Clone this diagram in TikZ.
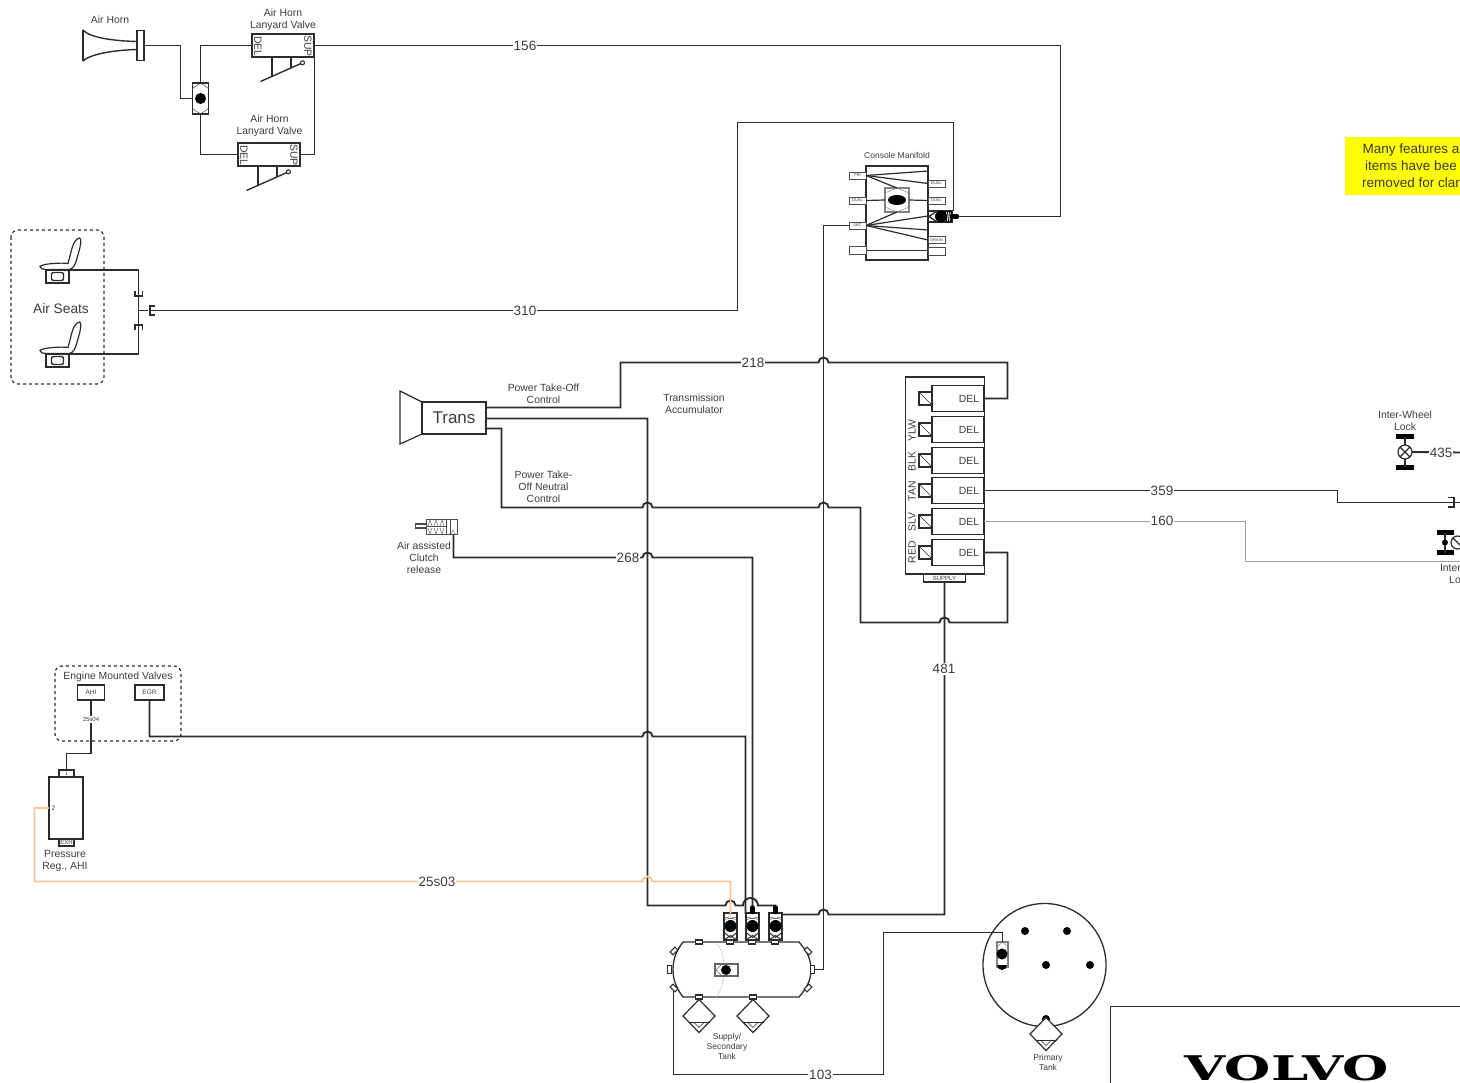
\documentclass[tikz,border=0pt]{standalone}
\usepackage{fontspec}
\usepackage{graphicx}
\setmainfont{Liberation Sans}
\newfontfamily\volvofont{DejaVu Serif}
\definecolor{wirecol}{HTML}{2C2C2C}
\definecolor{labelcol}{HTML}{3C3C3C}
\definecolor{feedcol}{HTML}{A0A0A0}
\definecolor{orangecol}{HTML}{F9C795}
\definecolor{notecol}{HTML}{FFFF00}
\newcommand{\hop}[2]{-- (#1-5,#2) arc[start angle=180,end angle=0,radius=5pt]}
\tikzset{
  wire/.style={wirecol,line width=1.9pt},
  greywire/.style={feedcol,line width=1.9pt},
  orangewire/.style={orangecol,line width=1.9pt},
  pbox/.style={draw=wirecol,line width=1.1pt,fill=white,rectangle,inner sep=0pt,outer sep=0pt},
  dashbox/.style={draw=wirecol,line width=1.2pt,dashed,rounded corners=7pt},
  lbl/.style={font=\fontsize{10.4}{12}\selectfont,text=labelcol,align=center,inner sep=0pt,yshift=-0.7pt},
  tiny/.style={font=\fontsize{6}{7}\selectfont,text=labelcol,align=center,inner sep=0pt},
  wirelabel/.style={font=\fontsize{13.5}{15}\selectfont,text=labelcol,fill=white,inner sep=1pt,yshift=-0.5pt},
  shuttle/.pic={
    \node[pbox,minimum width=16pt,minimum height=31pt] (-body) at (0,0) {};
    \draw[wirecol] (-8,-10) -- (0,-15.5) -- (8,-10);
    \draw[wirecol] (-8,10) -- (0,15.5) -- (8,10);
    \fill[black] (0,0) circle (5.5pt);
  },
  lever/.pic={
    \draw[wirecol,line width=1.4pt] (-20.5,18) -- (20,0);
    \draw[wirecol,line width=1.1pt,fill=white] (21.5,-0.7) circle (2pt);
    \draw[wirecol,line width=1.4pt] (-9,-6) -- (-9,13);
    \draw[wirecol,line width=1.4pt] (10,-6) -- (10,4.5);
  },
  airseat/.pic={
    \node[pbox,minimum width=23pt,minimum height=13pt] (-base) at (0,0) {};
    \draw[wirecol,line width=1.4pt,rounded corners=2pt] (-6,-4) rectangle (6,4);
    \draw[wirecol,line width=1.2pt,fill=white] (-17.5,-10) .. controls (-15,-13) and (5,-14) .. (10.5,-13)
      .. controls (14,-25) and (15,-37) .. (22,-38.5)
      .. controls (24,-38) and (24,-33) .. (20,-20)
      .. controls (18,-12) and (16,-8) .. (12,-7) -- (-12,-7) .. controls (-15,-7) and (-17,-8) .. (-17.5,-10) -- cycle;
  },
  tankvalve/.pic={
    \node[pbox,minimum width=13pt,minimum height=27pt] (-body) at (0,0) {};
    \draw[wirecol] (-6.5,-9.5) -- (6.5,-7);
    \draw[wirecol] (-6.5,-7) -- (6.5,-9.5);
    \draw[wirecol,line width=1pt] (-6.5,6) -- (0,11) -- (6.5,6);
    \draw[wirecol,line width=1pt] (-6.5,13.5) -- (0,9) -- (6.5,13.5);
    \fill[black] (0,-0.5) circle (6pt);
  },
  drainvalve/.pic={
    \draw[wirecol,line width=1.2pt,fill=white] (0,-16.5) -- (16,0) -- (0,16.5) -- (-16,0) -- cycle;
    \draw[wirecol] (-10.5,6) -- (10.5,6);
    \draw[wirecol] (-5.5,6) -- (0,11.5) -- (5.5,6);
  },
  axle/.pic={
    \fill[black] (-9,-18) rectangle (9,-13);
    \fill[black] (-9,13) rectangle (9,18);
    \draw[wire] (0,-15) -- (0,15);
  },
  shortaxle/.pic={
    \fill[black] (-8.5,-12.5) rectangle (8.5,-7.5);
    \fill[black] (-8.5,7.5) rectangle (8.5,12.5);
    \draw[wire] (0,-10) -- (0,10);
  },
  sport/.style={pbox,minimum width=7pt,minimum height=4pt},
  mport/.style={pbox,draw=black!70,line width=0.9pt,minimum width=17pt,minimum height=7pt,font=\fontsize{4}{5}\selectfont,text=labelcol},
}
\begin{document}
\begin{tikzpicture}[x=1pt,y=-1pt]
\useasboundingbox (0,0) rectangle (1460,1083);
\clip (0,0) rectangle (1460,1083);
%
% air horn and lanyard valves
\node[lbl] (hornlabel) at (110,19) {Air Horn};
\draw[wirecol,line width=1.4pt] (83,30) .. controls (90,38) and (115,41) .. (137,41.5);
\draw[wirecol,line width=1.4pt] (83,61) .. controls (90,54) and (115,50) .. (137,49.5);
\draw[wirecol,line width=1.4pt] (83,30) -- (83,61);
\node[pbox,minimum width=7pt,minimum height=30pt] (hornflange) at (140.5,45.5) {};
\pic (hornshuttle) at (200.5,98.5) {shuttle};
\node[pbox,minimum width=62pt,minimum height=23pt] (lanyarda) at (283,45.5) {};
\node[pbox,minimum width=62pt,minimum height=23pt] (lanyardb) at (269,154.5) {};
\node[lbl,rotate=-90] (delA) at (258,45.5) {DEL};
\node[lbl,rotate=-90] (supA) at (308,45.5) {SUP};
\node[lbl,rotate=-90] (delB) at (244,154.5) {DEL};
\node[lbl,rotate=-90] (supB) at (294,154.5) {SUP};
\node[lbl] (lanyardalabel) at (283,19.5) {Air Horn\\Lanyard Valve};
\node[lbl] (lanyardblabel) at (269.5,125.5) {Air Horn\\Lanyard Valve};
\pic at (281,63.5) {lever};
\pic at (267,172.5) {lever};
\draw[wire] (hornflange.east) -- (180.5,45.5) -- (180.5,98.5) -- (hornshuttle-body.west);
\draw[wire] (hornshuttle-body.north) |- (lanyarda.west);
\draw[wire] (hornshuttle-body.south) |- (lanyardb.west);
\draw[wire] (lanyardb.east) -| (314.5,57);
%
% air seats
\draw[dashbox] (11,230) rectangle (104,384);
\node[lbl,font=\fontsize{13.7}{15}\selectfont] (seatlabel) at (61,308) {Air Seats};
\pic (seata) at (57.5,276.5) {airseat};
\pic (seatb) at (57.5,360.5) {airseat};
\coordinate (seatjoin) at (138.5,310.5);
\draw[wire] (seata-base.north east) -| (seatjoin);
\draw[wire] (seatb-base.north east) -| (seatjoin);
\draw[wirecol,line width=1.2pt] (135,291) -- (135,296) -- (142.5,296) -- (142.5,291);
\draw[wirecol,line width=1.2pt] (135,330) -- (135,325) -- (142.5,325) -- (142.5,330);
\draw[wire] (seatjoin) -- (148,310.5);
\draw[wirecol,line width=1.2pt] (155,306) -- (150,306) -- (150,315) -- (155,315);
%
% console manifold
\node[lbl,font=\fontsize{8.5}{10}\selectfont] (consolelabel) at (897,155) {Console Manifold};
\node[pbox,minimum width=62pt,minimum height=94pt] (console) at (897,213) {};
\draw[wirecol,line width=1.2pt] (866,250.5) -- (928,250.5);
\node[mport] (pri) at (857.5,175.5) {PRI};
\node[mport] (dualin) at (857.5,200.5) {DUAL};
\node[mport] (sec) at (857.5,225.5) {SEC};
\node[mport,minimum height=8pt] (blankin) at (857.5,250.5) {};
\node[mport] (dualtop) at (936.5,183.5) {DUAL};
\node[mport] (dualmid) at (936.5,200.5) {DUAL};
\node[mport] (drain) at (936.5,240) {DRAIN};
\node[mport,minimum height=8pt] (blankout) at (936.5,251) {};
\node[pbox,draw=black!50,minimum width=24pt,minimum height=24pt] (consoleshuttle) at (897,200) {};
\draw[black!50] (885,193) -- (897,188) -- (909,193);
\draw[black!50] (885,207) -- (897,212) -- (909,207);
\fill[black] (897,200) ellipse (9pt and 5pt);
\draw[wirecol,line width=1.2pt] (pri.east) -- (928,171);
\draw[wirecol,line width=1.2pt] (pri.east) -- (dualtop.west);
\draw[wirecol,line width=1.2pt] (pri.east) -- (consoleshuttle.north);
\draw[wirecol,line width=1.2pt] (sec.east) -- (928,216);
\draw[wirecol,line width=1.2pt] (sec.east) -- (928,230);
\draw[wirecol,line width=1.2pt] (sec.east) -- (drain.west);
\draw[wirecol,line width=1.2pt] (sec.east) -- (consoleshuttle.south);
\draw[wirecol,line width=1.2pt] (dualin.east) -- (consoleshuttle.west);
\draw[wirecol,line width=1.2pt] (consoleshuttle.east) -- (dualmid.west);
\node[pbox,minimum width=24pt,minimum height=11pt] (consolevalve) at (940,216.5) {};
\draw[wirecol,line width=1.3pt] (937,211) -- (929,216.5) -- (937,222);
\foreach \px in {945.5,947.5,949.5,951}{\draw[black,line width=0.9pt] (\px,211) -- (\px+1,222);}
\fill[black] (941,216.5) circle (6pt);
\coordinate (consoleair) at (958,216.5);
\draw[black,line width=4.5pt,line cap=round] (952,216.5) -- (957,216.5);
%
% delivery block
\node[pbox,minimum width=79pt,minimum height=197pt] (delblock) at (945,475.5) {};
\node[pbox,minimum width=42pt,minimum height=8pt,font=\fontsize{6}{7}\selectfont,text=labelcol] (supply) at (944.5,578) {SUPPLY};
\foreach \i/\yy in {1/398.5,2/429.5,3/460.5,4/490.5,5/521.5,6/552.5}{
  \node[pbox,minimum width=52pt,minimum height=26pt,font=\fontsize{10.4}{12}\selectfont,text=labelcol] (del\i) at (958,\yy) {\hspace*{22pt}DEL};
  \node[pbox,minimum width=13pt,minimum height=13pt] (sol\i) at (925.5,\yy) {};
  \draw[wirecol] (sol\i.north west) -- (sol\i.south east);
}
\foreach \colname/\yy in {YLW/429,BLK/460,TAN/490,SLV/521,RED/551}{
  \node[lbl,rotate=90,xshift=-0.7pt] (tag\colname) at (912,\yy) {\colname};
}
%
% transmission and clutch
\node[pbox,minimum width=64pt,minimum height=32pt,font=\fontsize{17}{20}\selectfont,text=labelcol] (trans) at (454,418) {Trans};
\draw[wirecol,line width=1.2pt] (trans.north west) -- (400,391) -- (400,444) -- (trans.south west);
\coordinate (transa) at (486,407.5);
\coordinate (transb) at (486,418.5);
\coordinate (transc) at (486,428.5);
\node[lbl] (ptolabel) at (543.5,393.5) {Power Take-Off\\Control};
\node[lbl] (neutrallabel) at (543.5,486.5) {Power Take-\\Off Neutral\\Control};
\node[lbl] (accumlabel) at (694,403.5) {Transmission\\Accumulator};
\node[pbox,draw=black!70,minimum width=31pt,minimum height=15pt] (clutch) at (442,527) {};
\node[pbox,draw=black!70,minimum width=11pt,minimum height=4pt] (clutchrod) at (421,526) {};
\draw[black!70] (446,519.5) -- (446,534.5);
\draw[black!70] (450,519.5) -- (450,534.5);
\draw[black!70] (426,526.5) -- (446,526.5);
\foreach \cx in {430,436,442}{
  \draw[black!70] (\cx-2,526) -- (\cx,520) -- (\cx+2,526);
  \draw[black!70] (\cx-2,528) -- (\cx,534) -- (\cx+2,528);
}
\draw[black!70] (451,534) -- (453,530) -- (455,534);
\node[lbl] (clutchlabel) at (424,557) {Air assisted\\Clutch\\release};
\coordinate (clutchport) at (453.5,535);
%
% engine mounted valves and regulator
\draw[dashbox] (55,666) rectangle (181,741);
\node[lbl] (enginelabel) at (118,676) {Engine Mounted Valves};
\node[pbox,minimum width=27pt,minimum height=15pt,font=\fontsize{6.5}{8}\selectfont,text=labelcol] (ahi) at (91,692.5) {AHI};
\node[pbox,minimum width=29pt,minimum height=15pt,font=\fontsize{6.5}{8}\selectfont,text=labelcol] (egr) at (149.5,692.5) {EGR};
\node[pbox,minimum width=34pt,minimum height=62pt] (regulator) at (66,808) {};
\node[pbox,minimum width=15pt,minimum height=7pt,font=\fontsize{5}{6}\selectfont,text=labelcol] (regtop) at (66.5,773.5) {1};
\node[pbox,minimum width=15pt,minimum height=7pt,font=\fontsize{6}{7}\selectfont,text=labelcol] (regexh) at (66.5,842.5) {EXH};
\node[lbl,font=\fontsize{6.5}{8}\selectfont] (regtwo) at (53.5,808) {2};
\node[lbl] (reglabel) at (65,860.5) {Pressure\\Reg., AHI};
%
% supply tank
\draw[wirecol,line width=1.3pt,fill=white] (683,942) -- (799,942) .. controls (806,950) and (811,958) .. (811,969.5)
  .. controls (811,981) and (806,989) .. (799,997) -- (683,997)
  .. controls (677,989) and (673,981) .. (673,969.5) .. controls (673,958) and (677,950) .. (683,942) -- cycle;
\draw[black!25] (716,942) .. controls (727,955) and (727,985) .. (716,997);
\foreach \pname/\px/\py in {porta/699/942,portb/730/942,portc/752/942,portd/775/942,porte/699/997,portf/753/997}{
  \node[sport] (\pname) at (\px,\py) {};
}
\node[pbox,minimum width=4pt,minimum height=8pt] (tankleft) at (669.5,969.5) {};
\node[pbox,minimum width=4pt,minimum height=8pt] (tankright) at (812.5,969.5) {};
\foreach \cx/\cy/\ca in {674/951/45,674/988/-45,808/951/-45,808/988/45}{
  \node[pbox,minimum width=7pt,minimum height=4pt,rotate=\ca] at (\cx,\cy) {};
}
\node[pbox,draw=black!60,minimum width=23pt,minimum height=12pt] (tankcheck) at (726.5,970) {};
\draw[black!60] (722,964) -- (716,970) -- (722,976);
\fill[black] (726,970) circle (5pt);
\pic (tanka) at (730.5,926.5) {tankvalve};
\pic (tankb) at (752.5,926.5) {tankvalve};
\pic (tankc) at (775.5,926.5) {tankvalve};
\pic at (699,1016) {drainvalve};
\pic at (753,1016) {drainvalve};
\node[lbl,font=\fontsize{8.5}{10}\selectfont] (supplylabel) at (727,1046) {Supply/\\Secondary\\Tank};
%
% primary tank
\draw[wirecol,line width=1.3pt] (1044.5,965) circle (61.5pt);
\foreach \dx/\dy in {1025/931,1067/931,1046/965,1090/965,1046/1019}{
  \fill[black] (\dx,\dy) circle (4pt);
}
\node[pbox,draw=black!50,minimum width=11pt,minimum height=25pt] (primarycheck) at (1002.5,954.5) {};
\draw[black!50] (997,947) -- (1002.5,942) -- (1008,947);
\fill[black] (1002,954) circle (5.5pt);
\fill[black] (997,965) arc[start angle=180,end angle=360,radius=5pt] -- cycle;
\pic at (1046,1034) {drainvalve};
\node[lbl,font=\fontsize{8.5}{10}\selectfont] (primarylabel) at (1048,1061.5) {Primary\\Tank};
%
% inter-wheel lock parts at the right edge
\node[lbl] (locklabel) at (1405,420) {Inter-Wheel\\Lock};
\pic at (1405,451.5) {axle};
\draw[wirecol,line width=1.2pt,fill=white] (1405,452) circle (7pt);
\node[circle,inner sep=0pt,minimum size=14pt,outer sep=0pt] (locka) at (1405,452) {};
\draw[wirecol,line width=1.2pt] (locka.north west) -- (locka.south east);
\draw[wirecol,line width=1.2pt] (locka.north east) -- (locka.south west);
\pic at (1445,542.5) {shortaxle};
\fill[black] (1445,542.5) circle (3pt);
\draw[wirecol,line width=1.2pt,fill=white] (1457.5,542.5) circle (6.5pt);
\draw[wirecol,line width=1.2pt] (1453,538) -- (1462,547);
\node[lbl,anchor=north east,align=right] (lockblabel) at (1461,563.5) {Inter\\Lo};
\coordinate (lockaend) at (1460,452.5);
\coordinate (rightend) at (1460,502.5);
\coordinate (greyend) at (1460,561.5);
%
% wires, with hops over what they cross
\draw[wire] (lanyarda.east) -- (1060.5,45.5) -- (1060.5,216.5) -- (consoleair);
\draw[wire] (150,310.5) -- (737.5,310.5) -- (737.5,122.5) -- (953.5,122.5) -- (953.5,211);
\draw[wire] (transa) -- (620.5,407.5) -- (620.5,362.5) \hop{823.5}{362.5} -- (1007.5,362.5) -- (1007.5,398.5) -- (del1.east);
\draw[wire] (transb) -- (647.5,418.5) -- (647.5,905.5) \hop{730.5}{905.5} -- (743,905.5) arc[start angle=180,end angle=0,radius=7.5pt] -- (775.5,905.5) -- (tankc-body.north);
\draw[wire] (transc) -- (501.5,428.5) -- (501.5,507.5) \hop{647.5}{507.5} \hop{823.5}{507.5} -- (860.5,507.5) -- (860.5,622.5) \hop{944.5}{622.5} -- (1007.5,622.5) -- (1007.5,552.5) -- (del6.east);
\draw[wire] (clutchport) -- (453.5,557.5) \hop{647.5}{557.5} -- (752.5,557.5) -- (tankb-body.north);
\draw[wire] (egr.south) -- (149.5,736.5) \hop{647.5}{736.5} -- (745.5,736.5) -- (745.5,914);
\draw[wire] (ahi.south) -- (91,753.5) -- (66.5,753.5) -- (regtop.north);
\draw[orangewire] (regulator.west) -- (34.5,808) -- (34.5,881.5) \hop{647.5}{881.5} -- (730.5,881.5) -- (tanka-body.north);
\draw[wire] (sec.west) -- (823.5,225.5) -- (823.5,969.5) -- (tankright.east);
\coordinate (tankcout) at (782,914.5);
\draw[wire] (tankcout) \hop{823.5}{914.5} -- (944.5,914.5) -- (supply.south);
\draw[wire] (673.5,990) -- (673.5,1074.5) -- (883.5,1074.5) -- (883.5,932.5) -- (1002.5,932.5) -- (primarycheck.north);
\draw[wire] (del4.east) -- (1337.5,490.5) -- (1337.5,502.5) -- (rightend);
\draw[greywire] (del5.east) -- (1245.5,521.5) -- (1245.5,561.5) -- (greyend);
\draw[wire] (locka.east) -- (lockaend);
\draw[wirecol,line width=1.2pt] (1448,497.5) -- (1454,497.5) -- (1454,507) -- (1448,507);
\foreach \stubx in {752.5,775.5}{
  \draw[black,line width=4.5pt,line cap=round] (\stubx,907.5) -- (\stubx,912);
}
\draw[orangewire] (730.5,905) -- (730.5,916);
%
% wire numbers
\node[wirelabel] (n156) at (525,45) {156};
\node[wirelabel] (n310) at (525,310) {310};
\node[wirelabel] (n218) at (753,362) {218};
\node[wirelabel] (n268) at (628,557) {268};
\node[wirelabel] (n481) at (944,668.5) {481};
\node[wirelabel] (n359) at (1162,490.5) {359};
\node[wirelabel] (n160) at (1162,520.5) {160};
\node[wirelabel] (n435) at (1441,452.5) {435};
\node[wirelabel] (n25s03) at (437,881) {25s03};
\node[wirelabel] (n103) at (820.5,1074) {103};
\node[tiny,fill=white,inner sep=1pt] (n25s04) at (91,719.5) {25s04};
%
% note and title block
\fill[notecol] (1345,137) rectangle (1460,195);
\node[lbl,font=\fontsize{13.5}{17}\selectfont,anchor=center] (notelabel) at (1411,164.5) {Many features a\\items have bee\\removed for clar};
\draw[wire] (1110.5,1083) -- (1110.5,1006.5) -- (1460,1006.5);
\node[inner sep=0pt,font=\volvofont\bfseries\fontsize{34}{34}\selectfont] (volvo) at (1286.5,1068) {\scalebox{1.56}[1]{VOLVO}};
%
\end{tikzpicture}
\end{document}
